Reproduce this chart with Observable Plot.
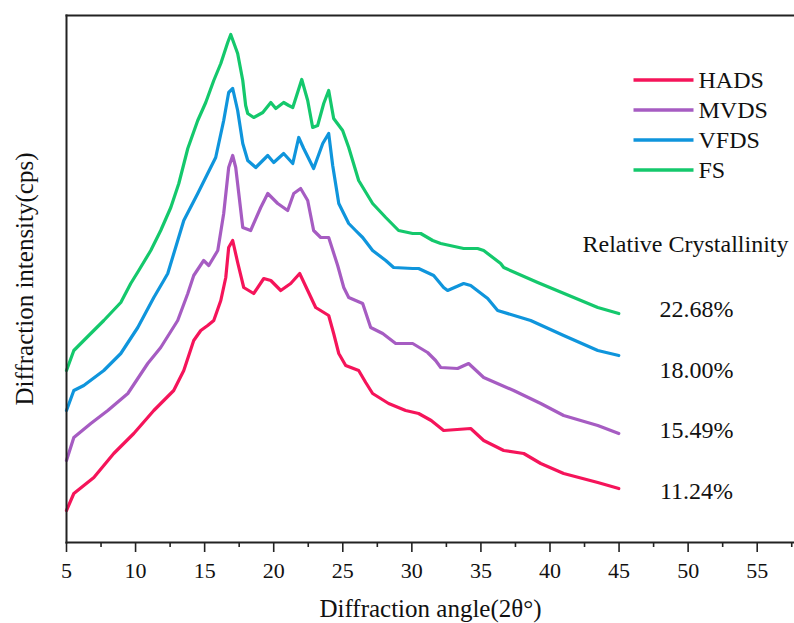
<!DOCTYPE html>
<html><head><meta charset="utf-8">
<script src="https://cdn.jsdelivr.net/npm/d3@7"></script>
<script src="https://cdn.jsdelivr.net/npm/@observablehq/plot@0.6"></script>
<style>
body{margin:0;background:#fff;}
#chart{width:794px;height:623px;}
</style>
</head><body><div id="chart"></div>
<script>
// ---- data ----
const seriesNames = ["HADS", "MVDS", "VFDS", "FS"];
const seriesColors = ["#f5145a", "#a65cc2", "#0f95dc", "#14c86c"];
const crystallinity = ["11.24%", "15.49%", "18.00%", "22.68%"];
const crystallinityTitle = "Relative Crystallinity";
const majorTicks = [5, 10, 15, 20, 25, 30, 35, 40, 45, 50, 55];
const minorTicks = [7.5, 12.5, 17.5, 22.5, 27.5, 32.5, 37.5, 42.5, 47.5, 52.5, 57.5];

// [angle 2θ (°), relative intensity]
const HADS = [[5.0,32],[5.53,49],[6.98,65],[8.42,89],[9.87,109],[11.32,132],[12.76,152],[13.49,172],[14.21,202],[14.72,212],[15.22,217],[15.66,222],[16.17,242],[16.53,265],[16.74,295],[17.03,302],[17.39,280],[17.83,255],[18.55,249],[19.28,264],[19.79,262],[20.51,252],[21.23,259],[21.88,269],[22.46,252],[23.04,235],[23.98,227],[24.34,209],[24.71,189],[25.21,177],[26.15,172],[26.66,160],[27.16,149],[28.32,139],[29.55,132],[30.49,129],[31.4,122],[32.3,112],[34.26,114],[35.2,102],[36.65,92],[38.1,89],[39.33,79],[40.99,69],[43.46,60],[44.98,54]];
const MVDS = [[5.0,82],[5.53,105],[6.76,119],[7.99,132],[9.44,149],[10.88,179],[11.82,195],[13.05,222],[13.78,249],[14.21,267],[14.93,282],[15.3,277],[15.95,292],[16.38,329],[16.74,375],[17.03,387],[17.25,375],[17.76,315],[18.33,312],[19.06,335],[19.57,349],[20.29,339],[21.01,332],[21.45,349],[21.95,354],[22.46,342],[22.89,312],[23.4,305],[23.98,305],[24.63,277],[25.07,255],[25.43,245],[26.44,239],[27.02,215],[27.89,209],[28.83,199],[30.06,199],[31.14,190],[31.72,182],[32.09,175],[33.31,174],[34.11,179],[35.2,165],[37.37,152],[39.33,139],[40.99,127],[43.46,117],[44.98,109]];
const VFDS = [[5.0,132],[5.53,152],[6.25,157],[7.7,172],[8.93,189],[10.16,215],[11.32,245],[12.04,262],[12.33,269],[13.49,322],[14.5,349],[15.22,369],[15.8,385],[16.38,422],[16.74,450],[17.03,454],[17.39,432],[17.76,399],[18.12,382],[18.7,375],[19.57,387],[20.0,380],[20.72,389],[21.38,379],[21.81,405],[22.17,394],[22.89,374],[23.55,399],[23.98,409],[24.27,377],[24.71,339],[25.43,319],[25.93,312],[26.44,305],[27.16,292],[28.11,282],[28.68,275],[30.06,274],[30.49,274],[31.58,267],[32.3,255],[32.59,252],[33.75,259],[34.26,257],[35.49,244],[36.21,232],[38.6,222],[40.99,207],[43.46,192],[44.98,187]];
const FS = [[5.0,172],[5.53,192],[6.25,202],[7.7,222],[8.93,240],[9.65,259],[10.23,272],[11.1,292],[11.82,312],[12.55,335],[13.13,359],[13.78,394],[14.5,422],[15.08,440],[15.66,462],[16.17,479],[16.67,500],[16.89,508],[17.39,489],[17.76,462],[17.97,437],[18.12,429],[18.55,425],[19.21,430],[19.79,440],[20.15,434],[20.72,440],[21.09,437],[21.38,435],[21.59,444],[22.03,463],[22.46,442],[22.82,415],[23.18,417],[23.62,439],[23.98,452],[24.34,424],[24.99,412],[25.43,395],[26.15,362],[27.16,339],[28.11,325],[29.04,312],[30.06,309],[30.64,309],[31.51,302],[32.09,299],[33.75,294],[34.76,294],[35.2,292],[36.43,279],[36.65,275],[39.11,260],[41.72,245],[43.46,235],[44.98,229]];

const rows = [];
[HADS, MVDS, VFDS, FS].forEach((s, k) =>
  s.forEach(([a, v]) => rows.push({series: seriesNames[k], angle: a, intensity: v})));

// ---- layout ----
const W = 794, H = 623, ML = 66, MT = 15, MB = 81;
const serif = "'Liberation Serif', 'Times New Roman', serif";
const ink = "#222";
const lineSymbol = {draw(ctx) { ctx.moveTo(-30, 0); ctx.lineTo(30, 0); }};

const legendMarks = seriesNames.flatMap((name, i) => [
  Plot.dot([name], {frameAnchor: "top-left", dx: 663 - ML, dy: 79.5 - MT + i * 30, symbol: lineSymbol, stroke: seriesColors[i], strokeWidth: 3.5, r: 5}),
  Plot.text([name], {frameAnchor: "top-left", dx: 698 - ML, dy: 80 - MT + i * 30, text: d => d, textAnchor: "start", lineAnchor: "middle", fontSize: 24, fontFamily: serif, fill: "#111"})
]);
const crystDy = [476, 415, 355, 294];
const crystMarks = crystallinity.map((t, i) =>
  Plot.text([t], {frameAnchor: "top-left", dx: 696 - ML, dy: crystDy[i], text: d => d, textAnchor: "middle", lineAnchor: "middle", fontSize: 24, fontFamily: serif, fill: "#111"}));

const chart = Plot.plot({
  width: W, height: H,
  marginLeft: ML, marginRight: 0, marginTop: MT, marginBottom: MB,
  style: {background: "#fff", fontFamily: serif, color: ink},
  x: {domain: [5, 57.7], axis: null},
  y: {domain: [0, 527], axis: null},
  color: {domain: seriesNames, range: seriesColors},
  marks: [
    Plot.line(rows, {x: "angle", y: "intensity", z: "series", stroke: "series", strokeWidth: 3.2, strokeLinejoin: "round"}),
    Plot.frame({anchor: "top", stroke: ink, strokeWidth: 2}),
    Plot.frame({anchor: "left", stroke: ink, strokeWidth: 2}),
    Plot.frame({anchor: "bottom", stroke: ink, strokeWidth: 2}),
    Plot.axisX(majorTicks, {tickSize: 10, tickPadding: 10, fontSize: 22, fontFamily: serif, label: null, stroke: ink, strokeWidth: 1.6, fill: "#111"}),
    Plot.axisX(minorTicks, {tickSize: 5, tickFormat: () => "", label: null, stroke: ink, strokeWidth: 1.6}),
    Plot.text(["Diffraction angle(2θ°)"], {frameAnchor: "bottom", dy: 66, text: d => d, fontSize: 25, fontFamily: serif, fill: "#111", textAnchor: "middle", lineAnchor: "middle"}),
    Plot.text(["Diffraction intensity(cps)"], {frameAnchor: "left", dx: -42, rotate: -90, text: d => d, fontSize: 25, fontFamily: serif, fill: "#111", textAnchor: "middle", lineAnchor: "middle"}),
    Plot.text([crystallinityTitle], {frameAnchor: "top-left", dx: 685 - ML, dy: 244 - MT, text: d => d, fontSize: 24, fontFamily: serif, fill: "#111", textAnchor: "middle", lineAnchor: "middle"}),
    ...crystMarks,
    ...legendMarks
  ]
});
document.getElementById("chart").appendChild(chart);
</script>
</body></html>
